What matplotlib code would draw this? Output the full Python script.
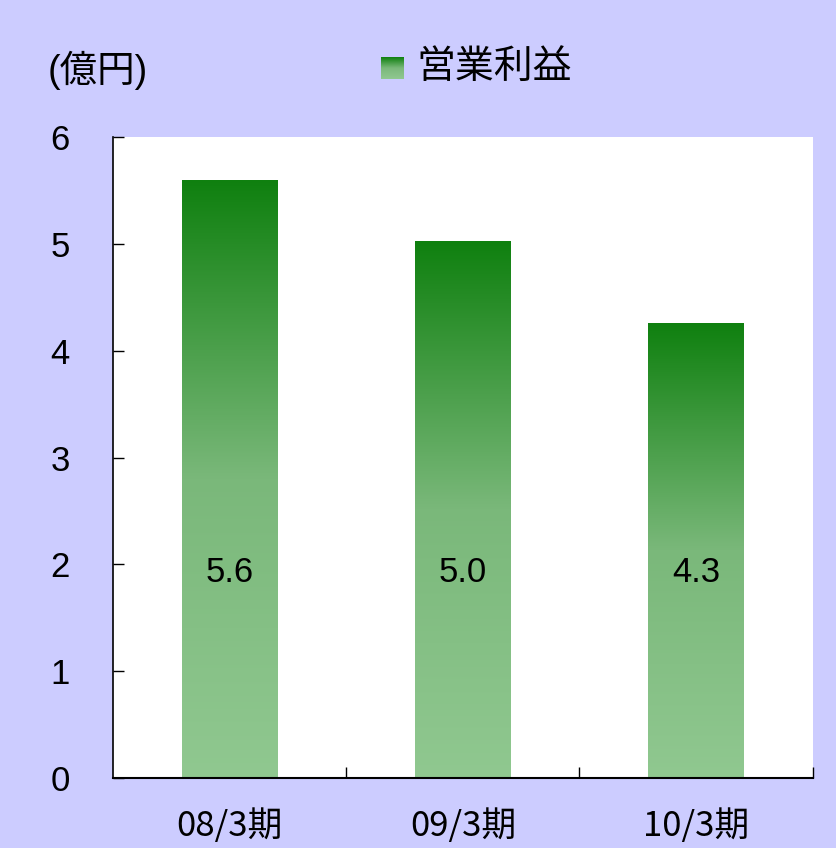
import numpy as np
import matplotlib.pyplot as plt
from matplotlib.colors import LinearSegmentedColormap

plt.rcParams['font.family'] = ['Liberation Sans', 'Noto Sans CJK JP', 'DejaVu Sans']

categories = ['08/3期', '09/3期', '10/3期']
profit = [5.6, 5.03, 4.26]
yticks = [0, 1, 2, 3, 4, 5, 6]
unit_label = '(億円)'
series_name = '営業利益'

bg = '#ccccff'
green_cmap = LinearSegmentedColormap.from_list('g', ['#90c890', '#7ab87a', '#0f800f'])
grad = np.linspace(0, 1, 256).reshape(-1, 1)

fig = plt.figure(figsize=(8.37, 8.48), dpi=100, facecolor=bg)
ax = fig.add_axes([0.135, 0.0825, 0.836, 0.7559])
ax.set_facecolor('white')

x = np.arange(len(categories))
bars = ax.bar(x, profit, width=0.41, color='none', edgecolor='none')
for b, v in zip(bars, profit):
    im = ax.imshow(grad, cmap=green_cmap, origin='lower', aspect='auto',
                   extent=[b.get_x(), b.get_x() + b.get_width(), 0, v], zorder=2)
    im.set_clip_path(b)
    ax.text(b.get_x() + b.get_width() / 2, 1.92, f'{v:.1f}',
            ha='center', va='center', fontsize=25, zorder=3)

ax.set_xlim(-0.5, 2.5)
ax.set_ylim(0, 6)
ax.set_yticks(yticks)
ax.set_yticklabels([str(t) for t in yticks], fontsize=25)
ax.tick_params(axis='y', direction='in', length=8, pad=31, width=1)
ax.set_xticks([0.5, 1.5, 2.5], minor=False)
ax.set_xticklabels([])
ax.tick_params(axis='x', direction='in', length=8, width=1)
ax.set_xticks(x, minor=True)
ax.set_xticklabels(categories, minor=True, fontsize=25, family=['Noto Sans CJK JP'])
ax.tick_params(axis='x', which='minor', length=0, pad=22)

ax.spines['top'].set_visible(False)
ax.spines['right'].set_visible(False)
ax.spines['left'].set_linewidth(1.2)
ax.spines['bottom'].set_linewidth(1.5)

fig.text(48 / 837, 1 - 70 / 848, unit_label, fontsize=27, ha='left', va='center')

# legend swatch with gradient
lax = fig.add_axes([381 / 837, 1 - 79 / 848, 23 / 837, 22 / 848])
lax.imshow(grad, cmap=green_cmap, origin='lower', aspect='auto')
lax.axis('off')
fig.text(416 / 837, 1 - 68 / 848, series_name, fontsize=28, ha='left', va='center')

fig.savefig('out.png', dpi=100, facecolor=bg)
